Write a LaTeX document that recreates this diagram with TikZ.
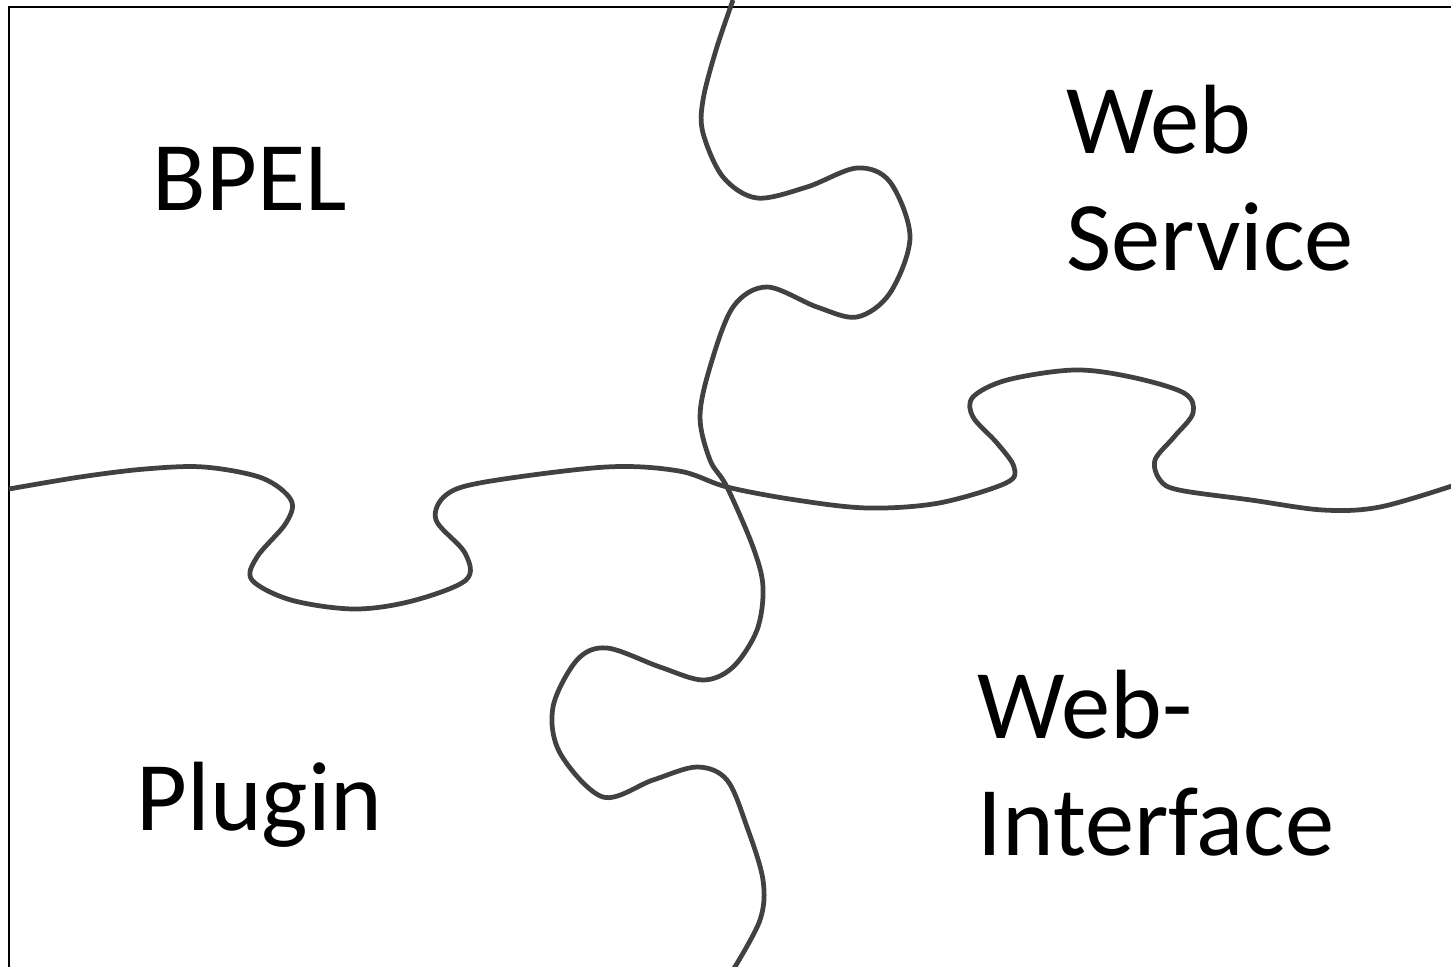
\documentclass[tikz,border=0pt]{standalone}
\usepackage{fontspec}
\setmainfont{Carlito}
\usepackage{xcolor}
\definecolor{puzzleGray}{RGB}{65, 65, 65}

\begin{document}
\begin{tikzpicture}[x=0.01cm, y=-0.01cm,
    piece/.style={anchor=base west, align=left, inner sep=0pt, font=\fontsize{28}{33}\selectfont},
    seam/.style={draw=puzzleGray, line width=1.35pt, line join=round}]
    \useasboundingbox (0,0) rectangle (1451,966);
    % frame (only top and left edge are inside the page)
    \draw[line width=0.8pt] (9,990) -- (9,7) -- (1470,7);
    % horizontal seam
    \draw[seam] plot[smooth, tension=0.55] coordinates {
        (9,489) (80,477) (145,469) (204,467) (262,478) (291,500) (286,523)
        (257,557) (252,580) (291,600) (354,609) (412,601) (466,580) (465,553)
        (436,520) (446,495) (485,482) (606,467) (679,471) (727,487) (796,500)
        (868,508) (939,503) (1006,483) (1014,467) (997,443) (973,417) (973,397)
        (1007,380) (1074,370) (1131,377) (1184,393) (1193,413) (1174,437)
        (1155,460) (1160,480) (1179,490) (1251,500) (1323,510) (1380,507) (1455,485)};
    % vertical seam
    \draw[seam] plot[smooth, tension=0.55] coordinates {
        (733,0) (716,50) (703,100) (703,133) (723,177) (757,198) (807,187)
        (857,168) (890,182) (910,237) (890,293) (857,317) (817,307) (767,287)
        (733,307) (710,367) (700,417) (710,460) (727,487) (753,547) (763,587)
        (757,630) (733,667) (703,680) (660,667) (607,648) (577,660) (553,707)
        (560,753) (603,797) (653,780) (697,767) (727,780) (747,827) (763,880)
        (760,920) (733,970)};
    % labels
    \node[piece] (bpel) at (152,210) {BPEL};
    \node[piece] (websvc) at (1066,270) {Web\\Service};
    \node[piece] (webif) at (977,855) {Web-\\Interface};
    \node[piece] (plugin) at (136,830) {Plugin};
\end{tikzpicture}
\end{document}
